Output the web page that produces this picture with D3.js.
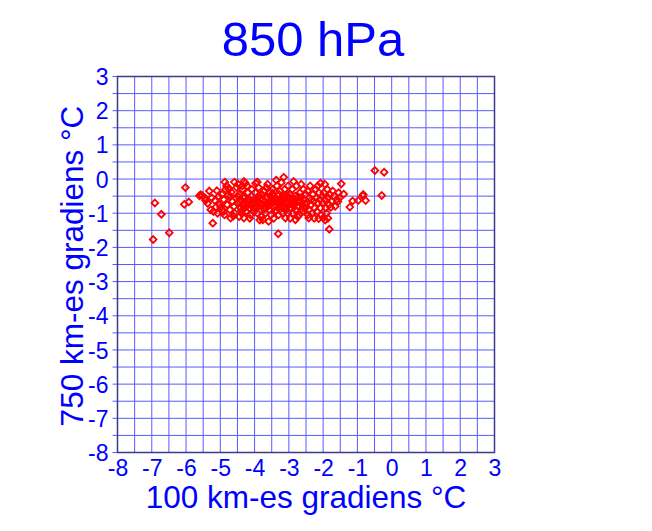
<!DOCTYPE html>
<html><head><meta charset="utf-8">
<script src="https://cdn.jsdelivr.net/npm/d3@7"></script>
<style>body{margin:0;background:#fff}svg{display:block}</style>
</head><body>
<script>
const title = "850 hPa";
const xLabel = "100 km-es gradiens °C";
const yLabel = "750 km-es gradiens °C";
const xTicks = [-8,-7,-6,-5,-4,-3,-2,-1,0,1,2,3];
const yTicks = [3,2,1,0,-1,-2,-3,-4,-5,-6,-7,-8];
const xVals = [
-6.91,-6.02,-6.05,-5.92,-6.72,-6.49,-6.96,-5.61,-5.53,-5.22,-0.49,-0.22,-0.29,-3.31,-1.82,-0.84,-0.76,-0.83,-0.98,-1.22,-1.14,-1.47,-1.95,-1.40,-1.57,-1.78,-2.00,
-5.57,-5.32,-5.10,-4.87,-4.59,-5.43,-5.37,-5.16,-5.13,-4.90,-4.99,-4.70,-4.31,-3.97,-4.70,-4.31,-4.75,
-3.15,-3.37,-2.86,-2.08,-3.92,-3.76,-3.59,-2.81,-2.42,-2.13,-3.10,
-4.95,-4.90,-4.85,-4.80,-4.78,-4.72,-4.68,-4.65,-4.60,-4.58,-4.55,-4.52,-4.50,-4.95,-4.88,-4.82,-4.62,-5.05,-5.02,-5.25,-5.20,-5.28,-5.45,-5.08,-4.75,
-4.48,-4.45,-4.42,-4.40,-4.38,-4.35,-4.32,-4.28,-4.25,-4.22,-4.20,-4.18,-4.15,-4.12,-4.10,-4.08,-4.05,-4.02,-4.00,-4.45,-4.27,-4.36,-4.14,-4.30,
-3.98,-3.95,-3.92,-3.90,-3.88,-3.85,-3.82,-3.80,-3.78,-3.75,-3.72,-3.70,-3.68,-3.65,-3.62,-3.60,-3.58,-3.55,-3.52,-3.50,-3.85,-3.66,-3.54,-3.94,
-3.48,-3.45,-3.42,-3.40,-3.38,-3.35,-3.32,-3.30,-3.28,-3.25,-3.22,-3.20,-3.18,-3.15,-3.12,-3.10,-3.08,-3.05,-3.02,-3.00,-3.44,-3.26,-3.16,-3.04,-3.36,
-2.98,-2.95,-2.92,-2.90,-2.88,-2.85,-2.82,-2.80,-2.78,-2.75,-2.72,-2.70,-2.68,-2.65,-2.62,-2.60,-2.58,-2.55,-2.52,-2.50,-2.96,-2.64,-2.86,-2.74,
-2.48,-2.45,-2.42,-2.40,-2.38,-2.35,-2.32,-2.30,-2.28,-2.25,-2.22,-2.20,-2.18,-2.15,-2.12,-2.10,-2.08,-2.05,-2.02,-2.00,-2.26,-2.44,-2.16,-2.34,
-1.98,-1.95,-1.92,-1.90,-1.88,-1.85,-1.82,-1.80,-1.75,-1.72,-1.68,-1.65,-1.60,-1.55,-1.52,-1.94,-1.86,
-4.43,-4.33,-4.23,-4.13,-4.03,-3.93,-3.83,-3.73,-3.63,-3.53,-3.43,-3.33,-3.23,-3.13,-3.03,-2.93,-2.83,-2.73,-2.63,-2.53,
-4.47,-4.37,-4.26,-4.16,-4.06,-3.96,-3.87,-3.76,-3.67,-3.57,-3.47,-3.37,-3.27,-3.17,-3.07,-2.97,-2.87,-2.77,-2.67,-2.57
];
const yVals = [
-0.70,-0.25,-0.74,-0.67,-1.03,-1.57,-1.77,-0.49,-0.48,-1.29,0.25,0.20,-0.48,-1.60,-1.47,-0.49,-0.63,-0.45,-0.63,-0.82,-0.64,-0.14,-0.15,-0.44,-0.66,-0.83,-1.14,
-0.46,-0.35,-0.34,-0.09,-0.09,-0.63,-0.71,-0.63,-0.82,-0.95,-0.82,-1.14,-0.07,-0.12,-0.51,-1.14,-0.27,
0.05,-0.03,-0.07,-0.12,-0.09,-1.19,-1.24,-1.19,-1.14,-1.16,-1.14,
-0.45,-0.60,-0.30,-0.75,-0.50,-0.90,-0.38,-0.65,-0.80,-1.00,-0.55,-0.25,-0.70,-0.90,-1.05,-0.20,-1.08,-0.50,-0.75,-0.55,-0.95,-0.90,-0.55,-1.00,-0.30,
-0.15,-0.45,-0.60,-0.85,-1.00,-0.30,-0.55,-0.72,-0.95,-0.20,-0.40,-0.65,-0.85,-1.05,-0.50,-0.30,-0.75,-0.95,-0.60,-1.10,-0.12,-0.20,-1.15,-0.50,
-0.40,-0.80,-1.00,-0.55,-0.25,-0.70,-0.90,-1.10,-0.45,-0.60,-0.35,-0.80,-1.00,-0.55,-0.15,-0.70,-0.90,-0.40,-1.05,-0.60,-1.20,-0.25,-0.75,-0.65,
-0.30,-0.50,-0.75,-0.95,-0.60,-0.20,-0.85,-1.05,-0.45,-0.65,-0.10,-0.80,-1.00,-0.50,-0.30,-0.70,-0.90,-0.55,-0.20,-0.75,-1.15,-0.35,-0.62,-1.00,-0.70,
-0.45,-0.85,-0.60,-0.30,-1.00,-0.70,-0.50,-0.90,-0.20,-0.65,-0.80,-1.05,-0.40,-0.55,-0.75,-0.95,-0.30,-0.60,-0.85,-0.45,-1.15,-0.15,-0.58,-1.10,
-0.70,-0.35,-0.90,-0.55,-0.20,-0.75,-1.00,-0.45,-0.65,-0.85,-0.30,-0.55,-0.95,-0.70,-0.40,-0.60,-0.85,-1.05,-0.50,-0.70,-1.15,-1.05,-0.20,-0.60,
-0.40,-0.60,-0.85,-1.00,-0.30,-0.55,-0.75,-0.45,-0.65,-0.35,-0.50,-0.80,-0.60,-0.40,-0.55,-1.20,-1.15,
-0.68,-0.78,-0.62,-0.72,-0.85,-0.66,-0.58,-0.88,-0.74,-0.52,-0.82,-0.64,-0.56,-0.86,-0.68,-0.74,-0.62,-0.52,-0.88,-0.72,
-0.52,-0.92,-0.82,-0.58,-0.68,-0.86,-0.48,-0.74,-0.86,-0.66,-0.42,-0.92,-0.76,-0.84,-0.46,-0.56,-0.78,-0.94,-0.64,-0.82
];

const W = 652, H = 531;
const font = "Liberation Sans, Arial, sans-serif";
const svg = d3.select("body").append("svg").attr("width", W).attr("height", H);
const x = d3.scaleLinear().domain([-8, 3]).range([117.5, 494.5]);
const y = d3.scaleLinear().domain([-8, 3]).range([452.5, 76.5]);
const blue = "#0000ff";

// grid lines every 0.5
const gridVals = d3.range(-8, 3.001, 0.5);
svg.append("g").selectAll("line").data(gridVals).join("line")
  .attr("x1", d => x(d)).attr("x2", d => x(d))
  .attr("y1", y(3)).attr("y2", y(-8))
  .attr("stroke", "#5a5aff").attr("stroke-width", 1);
svg.append("g").selectAll("line").data(gridVals).join("line")
  .attr("x1", x(-8) - 5).attr("x2", x(3))
  .attr("y1", d => y(d)).attr("y2", d => y(d))
  .attr("stroke", "#5a5aff").attr("stroke-width", 1);

// frame
svg.append("rect").attr("x", x(-8)).attr("y", y(3))
  .attr("width", x(3) - x(-8)).attr("height", y(-8) - y(3))
  .attr("fill", "none").attr("stroke", "#3a3a88").attr("stroke-width", 1.5);

const fmt = d => String(d);
const xAxis = d3.axisBottom(x).tickValues(xTicks).tickSize(0).tickPadding(0).tickFormat(fmt);
const gx = svg.append("g").attr("transform", `translate(0,${y(-8)})`).call(xAxis);
gx.select(".domain").remove();
gx.selectAll("text").attr("fill", blue).attr("font-family", font)
  .attr("font-size", 23).attr("dy", null).attr("y", 23);

const yAxis = d3.axisLeft(y).tickValues(yTicks).tickSize(0).tickPadding(0).tickFormat(fmt);
const gy = svg.append("g").attr("transform", `translate(${x(-8) - 9},0)`).call(yAxis);
gy.select(".domain").remove();
gy.selectAll("text").attr("fill", blue).attr("font-family", font)
  .attr("font-size", 23).attr("x", 0).attr("dy", "0.35em");

// points
const pts = xVals.map((v, i) => [v, yVals[i]]);
const r = 3.4;
svg.append("g").selectAll("path").data(pts).join("path")
  .attr("d", d => {
    const cx = x(d[0]), cy = y(d[1]);
    return `M${cx},${cy - r}L${cx + r},${cy}L${cx},${cy + r}L${cx - r},${cy}Z`;
  })
  .attr("fill", "none").attr("stroke", "#ff0000").attr("stroke-width", 1.8);

// titles
svg.append("text").attr("x", 313).attr("y", 56).attr("text-anchor", "middle")
  .attr("fill", blue).attr("font-family", font)
  .attr("font-size", 49).text(title);
svg.append("text").attr("x", 306).attr("y", 508).attr("text-anchor", "middle")
  .attr("fill", blue).attr("font-family", font)
  .attr("font-size", 31.5).text(xLabel);
svg.append("text").attr("transform", "translate(83,266) rotate(-90)").attr("text-anchor", "middle")
  .attr("fill", blue).attr("font-family", font)
  .attr("font-size", 31.5).text(yLabel);
</script>
</body></html>
